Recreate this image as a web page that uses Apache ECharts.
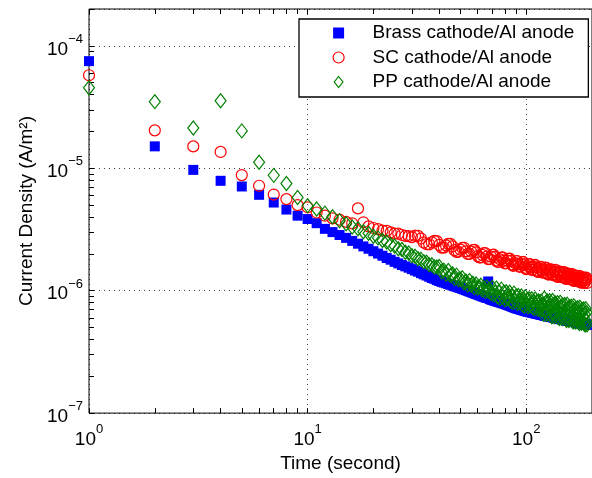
<!DOCTYPE html>
<html><head><meta charset="utf-8">
<script src="https://cdn.jsdelivr.net/npm/echarts@6/dist/echarts.min.js"></script>
<style>html,body{margin:0;padding:0;background:#fff}#c{width:592px;height:478px}</style>
</head><body><div id="c"></div>
<script>
// Current density in uA/m^2 (x1e-6 A/m^2), one sample per second starting at t = 1 s
const brass = [
75,15.1,9.7,7.9,7.1,6.07,5.25,4.6,4.1,3.85,
3.56,3.2,3.01,2.85,2.7,2.55,2.42,2.30,2.20,2.10,
2.01,1.93,1.85,1.79,1.72,1.67,1.62,1.58,1.54,1.50,
1.46,1.43,1.39,1.36,1.33,1.30,1.27,1.25,1.22,1.20,
1.18,1.165,1.15,1.133,1.118,1.104,1.089,1.076,1.062,1.05,
1.036,1.023,1.010,0.998,0.985,0.974,0.962,0.951,0.940,0.930,
0.920,0.910,0.900,0.891,0.882,0.873,1.19,0.856,0.848,0.840,
0.833,0.827,0.821,0.814,0.808,0.803,0.797,0.791,0.786,0.780,
0.773,0.767,0.761,0.755,0.748,0.743,0.737,0.731,0.725,0.720,
0.716,0.712,0.708,0.703,0.699,0.695,0.691,0.688,0.684,0.680,
0.677,0.674,0.671,0.669,0.666,0.663,0.661,0.658,0.656,0.653,
0.651,0.648,0.646,0.644,0.641,0.639,0.637,0.634,0.632,0.630,
0.628,0.626,0.624,0.622,0.620,0.618,0.617,0.615,0.613,0.611,
0.609,0.607,0.606,0.604,0.602,0.600,0.598,0.597,0.595,0.593,
0.591,0.590,0.588,0.586,0.585,0.583,0.580,0.579,0.578,0.576,
0.575,0.574,0.572,0.571,0.570,0.568,0.567,0.566,0.564,0.563,
0.562,0.560,0.559,0.558,0.556,0.555,0.554,0.553,0.551,0.550,
0.549,0.547,0.546,0.545,0.544,0.542,0.541,0.540,0.539,0.537,
0.536,0.535,0.534,0.532,0.531,0.530,0.529,0.527,0.526,0.525
];
const sc = [
57.5,20.4,15.1,13.6,8.8,7.2,6.1,5.6,5.0,4.8,
4.35,4.1,3.9,3.8,3.65,3.55,4.7,3.62,3.35,3.25,
3.18,3.1,3.08,3.0,2.93,2.92,2.85,2.8,2.79,2.74,
2.813,2.805,2.666,2.479,2.397,2.391,2.485,2.551,2.541,2.364,
2.248,2.249,2.344,2.414,2.414,2.299,2.143,2.077,2.078,2.165,
2.234,2.239,2.094,1.993,1.999,2.086,2.150,2.153,2.055,1.918,
1.866,1.873,1.959,2.024,2.030,1.900,1.811,1.817,1.899,1.960,
1.967,1.883,1.762,1.716,1.723,1.803,1.865,1.871,1.754,1.673,
1.682,1.760,1.821,1.829,1.751,1.640,1.597,1.606,1.681,1.739,
1.747,1.640,1.567,1.576,1.650,1.707,1.716,1.643,1.540,1.500,
1.510,1.583,1.639,1.649,1.547,1.478,1.488,1.558,1.614,1.622,
1.554,1.458,1.422,1.432,1.502,1.556,1.565,1.469,1.405,1.414,
1.483,1.536,1.545,1.482,1.390,1.355,1.365,1.432,1.484,1.493,
1.403,1.342,1.352,1.418,1.469,1.478,1.418,1.330,1.298,1.307,
1.372,1.423,1.432,1.346,1.288,1.297,1.360,1.410,1.419,1.362,
1.278,1.248,1.258,1.320,1.370,1.379,1.296,1.240,1.250,1.311,
1.360,1.368,1.314,1.233,1.204,1.214,1.274,1.322,1.330,1.251,
1.198,1.208,1.267,1.314,1.323,1.270,1.192,1.164,1.173,1.232,
1.278,1.287,1.211,1.159,1.169,1.228,1.273,1.282,1.230,1.155
];
const pp = [
45.5,35,21.3,35.6,20.2,11.2,8.75,7.5,5.77,4.95,
4.65,4.3,4.02,3.72,3.52,3.31,3.2,3.03,2.94,2.78,
2.7,2.57,2.5,2.37,2.32,2.2,2.17,2.06,2.03,1.93,
1.91,1.82,1.81,1.72,1.71,1.63,1.63,1.56,1.56,1.578,
1.427,1.472,1.360,1.461,1.331,1.376,1.259,1.340,1.226,1.24,
1.275,1.157,1.198,1.111,1.209,1.106,1.150,1.057,1.133,1.051,
1.07,1.108,1.012,1.056,0.987,1.072,0.989,1.027,0.951,1.062,
0.924,0.97,1.050,0.887,0.977,0.863,1.030,0.889,0.971,0.844,
0.980,0.854,0.897,0.971,0.821,0.905,0.800,0.955,0.826,0.902,
0.785,0.912,0.795,0.835,0.905,0.766,0.845,0.747,0.893,0.771,
0.845,0.737,0.858,0.750,0.790,0.858,0.728,0.804,0.713,0.854,
0.740,0.811,0.706,0.823,0.719,0.757,0.822,0.697,0.770,0.641,
0.868,0.687,0.802,0.638,0.825,0.662,0.724,0.829,0.632,0.751,
0.613,0.832,0.658,0.770,0.612,0.793,0.637,0.697,0.799,0.610,
0.726,0.593,0.803,0.636,0.743,0.592,0.766,0.614,0.673,0.772,
0.589,0.700,0.571,0.775,0.614,0.717,0.571,0.739,0.593,0.650,
0.746,0.569,0.678,0.554,0.752,0.596,0.698,0.555,0.720,0.578,
0.634,0.727,0.555,0.660,0.540,0.732,0.581,0.679,0.541,0.701,
0.563,0.617,0.708,0.540,0.644,0.525,0.714,0.565,0.662,0.526
];
const seriesNames = ['Brass cathode/Al anode','SC cathode/Al anode','PP cathode/Al anode'];
const xLabelTicks = [1, 10, 100];
const yLabelTicks = [1e-7, 1e-6, 1e-5, 1e-4];
const xMinorTicks = [1,2,3,4,5,6,7,8,9,10,20,30,40,50,60,70,80,90,100,200];
const yMinorTicks = [1e-7,2e-7,3e-7,4e-7,5e-7,6e-7,7e-7,8e-7,9e-7,
  1e-6,2e-6,3e-6,4e-6,5e-6,6e-6,7e-6,8e-6,9e-6,
  1e-5,2e-5,3e-5,4e-5,5e-5,6e-5,7e-5,8e-5,9e-5,1e-4,2e-4];
const xRange = [1, 200];
const yRange = [1e-7, 2e-4];

const times = brass.map((_, i) => i + 1);
const toData = arr => arr.map((v, i) => [times[i], v * 1e-6]);

const FONT = "'Liberation Sans', Arial, Helvetica, sans-serif";
function powLabel(v) {
  const e = Math.round(Math.log10(v));
  if (Math.abs(Math.pow(10, e) - v) / v > 1e-6) return '';
  return '{b|10}{s|' + (e < 0 ? '\u2212' + (-e) : e) + '}';
}
const rich = {
  b: {fontSize: 19, lineHeight: 26, verticalAlign: 'bottom', fontFamily: FONT, color: '#000'},
  s: {fontSize: 13, lineHeight: 13, verticalAlign: 'top', fontFamily: FONT, color: '#000'}
};
const tickStyle = {show: true, inside: true, length: 5, lineStyle: {color: '#000', width: 1}};

const chart = echarts.init(document.getElementById('c'), null, {renderer: 'canvas'});
chart.setOption({
  animation: false,
  backgroundColor: '#fff',
  grid: {left: 89, top: 9, width: 509, height: 408, show: true, borderColor: '#000', borderWidth: 1, backgroundColor: '#fff'},
  xAxis: [
    {type: 'log', logBase: 10, min: xRange[0], max: xRange[1], position: 'bottom',
     name: 'Time (second)', nameLocation: 'middle', nameGap: 35,
     nameTextStyle: {fontSize: 19, fontFamily: FONT, color: '#000'},
     axisLine: {show: false}, axisTick: {show: false},
     axisLabel: {customValues: xLabelTicks, formatter: powLabel, rich: rich, margin: 10, hideOverlap: false},
     splitLine: {show: true, lineStyle: {color: '#000', width: 1, type: [1, 4], opacity: 0.75}}},
    {type: 'log', logBase: 10, min: xRange[0], max: xRange[1], position: 'bottom',
     axisLine: {show: false}, axisLabel: {show: false}, splitLine: {show: false},
     axisTick: Object.assign({customValues: xMinorTicks}, tickStyle)},
    {type: 'log', logBase: 10, min: xRange[0], max: xRange[1], position: 'top',
     axisLine: {show: false}, axisLabel: {show: false}, splitLine: {show: false},
     axisTick: Object.assign({customValues: xMinorTicks}, tickStyle)}
  ],
  yAxis: [
    {type: 'log', logBase: 10, min: yRange[0], max: yRange[1], position: 'left',
     name: 'Current Density (A/m\u00b2)', nameLocation: 'middle', nameGap: 52,
     nameTextStyle: {fontSize: 19, fontFamily: FONT, color: '#000'},
     axisLine: {show: false}, axisTick: {show: false},
     axisLabel: {customValues: yLabelTicks, formatter: powLabel, rich: rich, margin: 6, hideOverlap: false},
     splitLine: {show: true, lineStyle: {color: '#000', width: 1, type: [1, 4], opacity: 0.75}}},
    {type: 'log', logBase: 10, min: yRange[0], max: yRange[1], position: 'left',
     axisLine: {show: false}, axisLabel: {show: false}, splitLine: {show: false},
     axisTick: Object.assign({customValues: yMinorTicks}, tickStyle)}
  ],
  legend: {
    orient: 'vertical', left: 299, top: 19,
    itemWidth: 58, itemHeight: 11, itemGap: 2.5,
    padding: [3, 14, 4, 33.5],
    borderColor: '#000', borderWidth: 1.3, backgroundColor: '#fff',
    textStyle: {fontSize: 19, lineHeight: 22, fontFamily: FONT, color: '#000'},
    selectedMode: false,
    data: [
      {name: seriesNames[0], icon: 'path://M0,0H10V10H0Z', itemStyle: {color: '#0000ff', borderWidth: 0, opacity: 1}},
      {name: seriesNames[1], icon: 'circle', itemStyle: {color: 'rgba(0,0,0,0)', borderColor: '#ff0000', borderWidth: 1.2, opacity: 1}},
      {name: seriesNames[2], icon: 'path://M0,-7 L5.5,0 L0,7 L-5.5,0 Z', itemStyle: {color: 'rgba(0,0,0,0)', borderColor: '#008000', borderWidth: 1.2, opacity: 1}}
    ]
  },
  series: [
    {name: seriesNames[0], type: 'scatter', data: toData(brass), symbol: 'rect', symbolSize: 10, clip: false,
     itemStyle: {color: '#0000ff', opacity: 1}, emphasis: {disabled: true}, silent: true},
    {name: seriesNames[1], type: 'scatter', data: toData(sc), symbol: 'circle', symbolSize: 11, clip: false,
     itemStyle: {color: 'rgba(0,0,0,0)', borderColor: '#ff0000', borderWidth: 1.2, opacity: 1}, emphasis: {disabled: true}, silent: true},
    {name: seriesNames[2], type: 'scatter', data: toData(pp), symbol: 'diamond', symbolSize: [11, 14], clip: false,
     itemStyle: {color: 'rgba(0,0,0,0)', borderColor: '#008000', borderWidth: 1.2, opacity: 1}, emphasis: {disabled: true}, silent: true}
  ]
});
</script>
</body></html>
